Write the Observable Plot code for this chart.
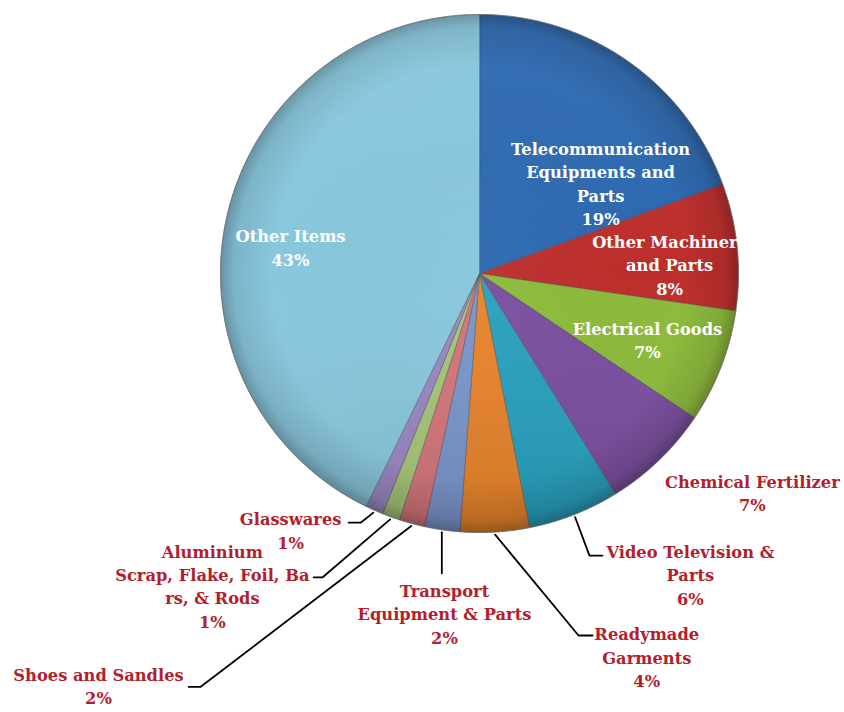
<!DOCTYPE html>
<html>
<head>
<meta charset="utf-8">
<script src="https://cdn.jsdelivr.net/npm/d3@7"></script>
<script src="https://cdn.jsdelivr.net/npm/@observablehq/plot@0.6"></script>
<style>
  html, body { margin: 0; padding: 0; background: #ffffff; }
  #chart svg { display: block; }
</style>
</head>
<body>
<div id="chart"></div>
<script>
// ---- data ----
const categories = [
  "Telecommunication Equipments and Parts",
  "Other Machinery and Parts",
  "Electrical Goods",
  "Chemical Fertilizer",
  "Video Television & Parts",
  "Readymade Garments",
  "Transport Equipment & Parts",
  "Shoes and Sandles",
  "Aluminium Scrap, Flake, Foil, Bars, & Rods",
  "Glasswares",
  "Other Items"
];
const labelText = [
  "Telecommunication\nEquipments and\nParts",
  "Other Machinery\nand Parts",
  "Electrical Goods",
  "Chemical Fertilizer",
  "Video Television &\nParts",
  "Readymade\nGarments",
  "Transport\nEquipment & Parts",
  "Shoes and Sandles",
  "Aluminium\nScrap, Flake, Foil, Ba\nrs, & Rods",
  "Glasswares",
  "Other Items"
];
const shares = [19.4, 7.9, 7.1, 6.8, 5.7, 4.3, 2.2, 1.6, 1.1, 1.1, 42.8];
const percentLabels = ["19%", "8%", "7%", "7%", "6%", "4%", "2%", "2%", "1%", "1%", "43%"];
const sliceColors = ["#2c68b0", "#bd2e2c", "#8cba39", "#7a4d9e", "#27a0be", "#e8832a",
                     "#7a95cb", "#d4757a", "#a6c578", "#9987c3", "#88c7dd"];

// ---- layout (polar: degrees clockwise from 12 o'clock, radius in pie radii) ----
const W = 844, H = 712;
const PIE = {cx: 479, cy: 273, r: 259};
const labelLayout = [
  {a: 53.05, r: 0.585, inside: true},
  {a: 87.0,  r: 0.735, inside: true},
  {a: 111.3, r: 0.696, inside: true},
  {a: 128.7, r: 1.350, inside: false},
  {a: 144.9, r: 1.416, inside: false, elbow: [158.7, 1.169], tail: 13},
  {a: 156.4, r: 1.613, inside: false, elbow: [164.7, 1.449], tail: 14},
  {a: 185.9, r: 1.316, inside: false, drop: 41},
  {a: 222.8, r: 2.165, inside: false, elbow: [214.0, 1.925], tail: -12},
  {a: 220.6, r: 1.585, inside: false, elbow: [207.3, 1.32],  tail: -9},
  {a: 216.4, r: 1.229, inside: false, elbow: [205.5, 1.066], tail: -12},
  {a: 278.1, r: 0.737, inside: true}
];
const FONT = "'DejaVu Serif', serif";
const LABEL_RED = "#b3202b";

// ---- geometry in pie-radius units (x right, y down) ----
const polar = (ang, rad) => [Math.sin(ang) * rad, -Math.cos(ang) * rad];
const deg = (d) => d * Math.PI / 180;

const rows = categories.map((c, i) => ({
  category: c, value: shares[i], color: sliceColors[i],
  text: labelText[i] + "\n" + percentLabels[i], layout: labelLayout[i]
}));
const arcs = d3.pie().sort(null).value(d => d.value)(rows);

function slicePolygon(a0, a1) {
  const n = Math.max(2, Math.ceil((a1 - a0) / deg(0.5)));
  const ring = [[0, 0]];
  for (let k = 0; k <= n; k++) ring.push(polar(a0 + (a1 - a0) * k / n, 1));
  ring.push([0, 0]);
  return ring;
}
const sliceFeatures = arcs.map(a => ({
  type: "Feature",
  properties: {category: a.data.category, color: a.data.color},
  geometry: {type: "Polygon", coordinates: [slicePolygon(a.startAngle, a.endAngle)]}
}));
const discRing = d3.range(0, 721).map(k => polar(deg(k / 2), 1));
const disc = {type: "Feature", properties: {}, geometry: {type: "Polygon", coordinates: [discRing]}};

// labels
const labelPoints = arcs.map(a => {
  const L = a.data.layout;
  const [x, y] = polar(deg(L.a), L.r);
  return {x, y, text: a.data.text, inside: L.inside};
});
// leader lines
const leaderPoints = [];
arcs.forEach(a => {
  const L = a.data.layout;
  if (!L.elbow && !L.drop) return;
  const mid = (a.startAngle + a.endAngle) / 2;
  const s = polar(mid, 1.01);
  leaderPoints.push({cat: a.data.category, x: s[0], y: s[1]});
  if (L.drop) {
    leaderPoints.push({cat: a.data.category, x: s[0], y: s[1] + L.drop / PIE.r});
    return;
  }
  const e = polar(deg(L.elbow[0]), L.elbow[1]);
  leaderPoints.push({cat: a.data.category, x: e[0], y: e[1]});
  if (L.tail) leaderPoints.push({cat: a.data.category, x: e[0] + L.tail / PIE.r, y: e[1]});
});

const frameDomain = {
  type: "MultiPoint",
  coordinates: [[-PIE.cx / PIE.r, -PIE.cy / PIE.r], [(W - PIE.cx) / PIE.r, (H - PIE.cy) / PIE.r]]
};

const chart = Plot.plot({
  width: W,
  height: H,
  margin: 0,
  style: {background: "#ffffff"},
  projection: {type: "identity", domain: frameDomain},
  marks: [
    Plot.geo(sliceFeatures, {
      fill: d => d.properties.color,
      stroke: "#3d3d3d", strokeOpacity: 0.55, strokeWidth: 0.8
    }),
    Plot.geo([disc], {fill: "url(#topLight)"}),
    Plot.geo([disc], {fill: "url(#rimShade)", stroke: "#7a7a7a", strokeWidth: 1, strokeOpacity: 0.7}),
    Plot.line(leaderPoints, {x: "x", y: "y", z: "cat", stroke: "#000000", strokeWidth: 1.8, curve: "linear"}),
    Plot.text(labelPoints.filter(d => d.inside), {
      x: "x", y: "y", text: "text", fill: "#ffffff",
      fontFamily: FONT, fontWeight: "bold", fontSize: 16.3, lineHeight: 1.44
    }),
    Plot.text(labelPoints.filter(d => !d.inside), {
      x: "x", y: "y", text: "text", fill: LABEL_RED,
      fontFamily: FONT, fontWeight: "bold", fontSize: 16.3, lineHeight: 1.44
    })
  ]
});

// gradients for the glossy look
const svg = d3.select(chart);
const defs = svg.insert("defs", ":first-child");
const rg = defs.append("radialGradient").attr("id", "rimShade")
  .attr("cx", "50%").attr("cy", "50%").attr("r", "50%");
[[0, "#ffffff", 0.04], [0.8, "#000000", 0], [0.95, "#000000", 0.10], [1, "#000000", 0.26]]
  .forEach(([o, c, a]) => rg.append("stop").attr("offset", o).attr("stop-color", c).attr("stop-opacity", a));
const lg = defs.append("linearGradient").attr("id", "topLight")
  .attr("x1", 0).attr("y1", 0).attr("x2", 0).attr("y2", 1);
[[0, "#ffffff", 0.05], [0.5, "#ffffff", 0], [1, "#000000", 0.12]]
  .forEach(([o, c, a]) => lg.append("stop").attr("offset", o).attr("stop-color", c).attr("stop-opacity", a));

document.getElementById("chart").appendChild(chart);
</script>
</body>
</html>
